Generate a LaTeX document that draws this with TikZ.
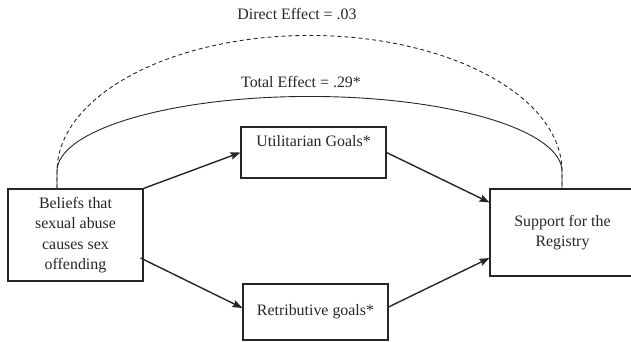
\documentclass[tikz,border=0pt]{standalone}
\usepackage{fontspec}
\setmainfont{Liberation Serif}
\usetikzlibrary{arrows.meta}
\definecolor{ink}{HTML}{262626}
\begin{document}
\begin{tikzpicture}[x=1pt,y=1pt,
  box/.style={draw=ink, line width=1.1pt, inner sep=0pt, align=center, text=ink},
  lbl/.style={text=ink, inner sep=0pt},
  arr/.style={draw=ink, line width=1.4pt, -{Stealth[length=10pt,width=7.5pt,inset=1.5pt]}},
  arcline/.style={draw=ink, line width=0.9pt},
  dashline/.style={draw=ink, line width=0.9pt, dash pattern=on 4pt off 3pt}]
\useasboundingbox (0,0) rectangle (631,341);
\fontsize{15.9}{20.5}\selectfont
% boxes
\node[box, minimum width=135pt, minimum height=92pt] (lb) at (75.5,106)
  {\fontsize{15.9}{20.7}\selectfont Beliefs that\\sexual abuse\\causes sex\\offending};
\node[box, minimum width=145pt, minimum height=51pt] (ut) at (313.5,188.5) {};
\node[lbl, anchor=base] (utl) at ([yshift=-19.6pt]ut.north) {Utilitarian Goals*};
\node[box, minimum width=145pt, minimum height=56pt] (rt) at (315.5,29) {Retributive goals*};
\node[box, minimum width=145pt, minimum height=87pt] (rb) at (562.5,108.5)
  {\fontsize{15.9}{18.3}\selectfont Support for the\\Registry};
% effect labels
\node[lbl, anchor=base] (de) at (297,321.5) {Direct Effect = .03};
\node[lbl, anchor=base] (te) at (301,253.5) {Total Effect = .29*};
% arc end points
\coordinate (aL) at ([xshift=-18.5pt]lb.north);
\coordinate (aR) at ([xshift=-0.5pt]rb.north);
\draw[dashline] (aL) -- ++(0,17) arc[start angle=180, end angle=0, x radius=252.5pt, y radius=136pt] -- (aR);
\draw[arcline] (aL) -- ++(0,17) arc[start angle=180, end angle=0, x radius=252.5pt, y radius=75pt] -- (aR);
% arrows
\draw[arr] (lb.north east) -- (ut.west);
\draw[arr] (ut.east) -- ([yshift=-14pt]rb.north west);
\draw[arr] ([shift={(-3pt,-23pt)}]lb.east) -- ([yshift=4pt]rt.west);
\draw[arr] ([yshift=5pt]rt.east) -- ([yshift=-25.5pt]rb.west);
\end{tikzpicture}
\end{document}
